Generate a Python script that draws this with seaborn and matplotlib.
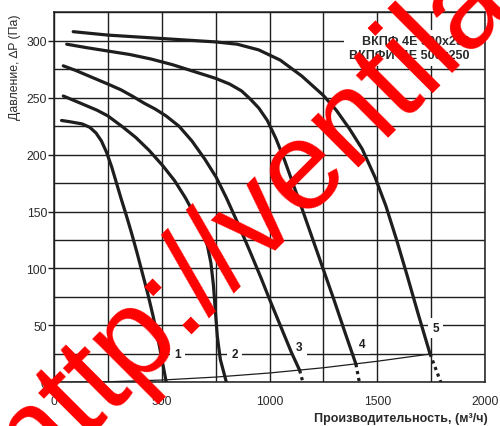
import numpy as np
import pandas as pd
import seaborn as sns
import matplotlib
matplotlib.use('Agg')
import matplotlib.pyplot as plt
from matplotlib.ticker import MultipleLocator

sns.set_theme(style='white')
plt.rcParams['font.family'] = ['Liberation Sans', 'DejaVu Sans']

# fan curves: flow (m3/h) vs pressure (Pa)
flow1 = [35, 70, 100, 130, 166, 195, 220, 244, 268, 290, 312, 335, 360, 385, 410, 435, 460, 490, 521]
pres1 = [230, 229, 228, 227, 224, 219, 212, 202, 189, 175, 161, 147, 131, 114, 96, 78, 58, 31, 0]

flow2 = [43, 100, 150, 200, 250, 321, 380, 440, 506, 560, 610, 650, 690, 712, 728, 740, 749, 758, 772, 800]
pres2 = [251.5, 247, 243, 239, 234, 224, 215, 204, 190, 177, 162, 148, 132, 120, 105, 85, 62, 40, 20, 0]

flow3 = [43, 100, 150, 200, 250, 310, 367, 420, 470, 520, 580, 640, 700, 753, 800, 850, 907, 960, 1000, 1050, 1100, 1140]
pres3 = [278, 274, 270, 266, 262, 257, 251, 245, 240, 234, 225, 212, 196, 180, 162, 141, 116, 92, 73, 50, 27, 10.5]

flow4 = [59, 150, 250, 350, 450, 550, 650, 750, 815, 870, 910, 950, 990, 1030, 1070, 1110, 1150, 1200, 1250, 1300, 1350, 1401]
pres4 = [297, 294, 291, 288, 284, 279, 273, 267, 262, 256, 249, 241, 230, 214, 195, 174, 153, 126, 99, 72, 44, 16]

flow5 = [89, 250, 500, 750, 850, 950, 1050, 1150, 1250, 1310, 1370, 1430, 1490, 1540, 1590, 1640, 1690, 1745]
pres5 = [308, 305, 302, 299, 297, 292, 283, 269, 252, 239, 223, 205, 180, 155, 125, 93, 60, 25]

# dotted tails below the network line
tail_flow3 = [1140, 1155]
tail_pres3 = [10.5, 0]
tail_flow4 = [1401, 1417]
tail_pres4 = [16, 0]
tail_flow5 = [1745, 1795]
tail_pres5 = [25, 0]

# network line
sys_flow = [0, 250, 500, 750, 1000, 1250, 1500, 1750]
sys_pres = [0, 0.5, 2, 4.6, 8.2, 12.8, 18.5, 25]

curve_names = ['1', '2', '3', '4', '5']
label_flow = [575, 838, 1139, 1432, 1772]
label_pres = [25, 25, 31, 34, 48]

title_lines = ['ВКПФ 4Е 500x250', 'ВКПФИ  4Е 500x250']

curves = pd.concat([
    pd.DataFrame({'flow': f, 'pres': p, 'curve': n})
    for f, p, n in zip([flow1, flow2, flow3, flow4, flow5],
                       [pres1, pres2, pres3, pres4, pres5], curve_names)
])
tails = pd.concat([
    pd.DataFrame({'flow': f, 'pres': p, 'curve': n})
    for f, p, n in zip([tail_flow3, tail_flow4, tail_flow5],
                       [tail_pres3, tail_pres4, tail_pres5], ['3', '4', '5'])
])
system = pd.DataFrame({'flow': sys_flow, 'pres': sys_pres})

fig = plt.figure(figsize=(5, 4.27), dpi=100)
ax = fig.add_axes([0.108, 0.1023, 0.862, 0.8665])

ink = '#1e1e1e'
sns.lineplot(data=curves, x='flow', y='pres', units='curve', estimator=None,
             sort=False, color=ink, lw=2.3, ax=ax, zorder=4)
sns.lineplot(data=tails, x='flow', y='pres', units='curve', estimator=None,
             sort=False, color=ink, lw=2.3, linestyle=(0, (1, 1.2)), ax=ax, zorder=4)
sns.lineplot(data=system, x='flow', y='pres', color=ink, lw=0.9, ax=ax, zorder=4)

ax.set_xlim(0, 2000)
ax.set_ylim(0, 325)
ax.xaxis.set_major_locator(MultipleLocator(500))
ax.xaxis.set_minor_locator(MultipleLocator(250))
ax.yaxis.set_major_locator(MultipleLocator(50))
ax.yaxis.set_minor_locator(MultipleLocator(25))
ax.set_yticks(np.arange(0, 301, 50))
ax.grid(True, which='both', color=ink, lw=1.0)
ax.set_axisbelow(True)
for s in ax.spines.values():
    s.set_color(ink)
    s.set_linewidth(1.1)

ax.tick_params(axis='y', which='major', left=True, length=4, width=1, color=ink,
               pad=1, labelsize=8.7, labelcolor='#2a2a2a')
ax.tick_params(axis='y', which='minor', left=False)
ax.tick_params(axis='x', which='both', bottom=False, length=0, pad=9,
               labelsize=8.7, labelcolor='#2a2a2a')
ax.set_xlabel('')
ax.set_ylabel('')

# curve numbers sit on white patches that break the grid
for name, fx, py in zip(curve_names, label_flow, label_pres):
    ax.text(fx, py, name, ha='center', va='center', fontsize=8.5, fontweight='bold',
            color=ink, zorder=3,
            bbox=dict(boxstyle='square,pad=0.35', fc='white', ec='none'))

ax.text(1930, 293.5, '\n'.join(title_lines), ha='right', va='center',
        multialignment='right', fontsize=9, fontweight='bold', color='#2a2a2a',
        linespacing=1.25, zorder=3,
        bbox=dict(boxstyle='square,pad=0.4', fc='white', ec='none'))

fig.text(15 / 500, 1 - 67 / 427, 'Давление, \u2206P (Па)', rotation=90,
         ha='center', va='center', fontsize=8.8, color='#2a2a2a')
fig.text(488 / 500, 1 - 419 / 427, 'Производительность, (м³/ч)', ha='right',
         va='center', fontsize=9, fontweight='bold', color='#2a2a2a')

# watermark
fig.text(33 / 500, 1 - 485 / 427, 'http://ventila', rotation=45,
         rotation_mode='anchor', ha='left', va='baseline', fontsize=91,
         color='#ff0000', zorder=10)

fig.savefig('out.png', dpi=100)
